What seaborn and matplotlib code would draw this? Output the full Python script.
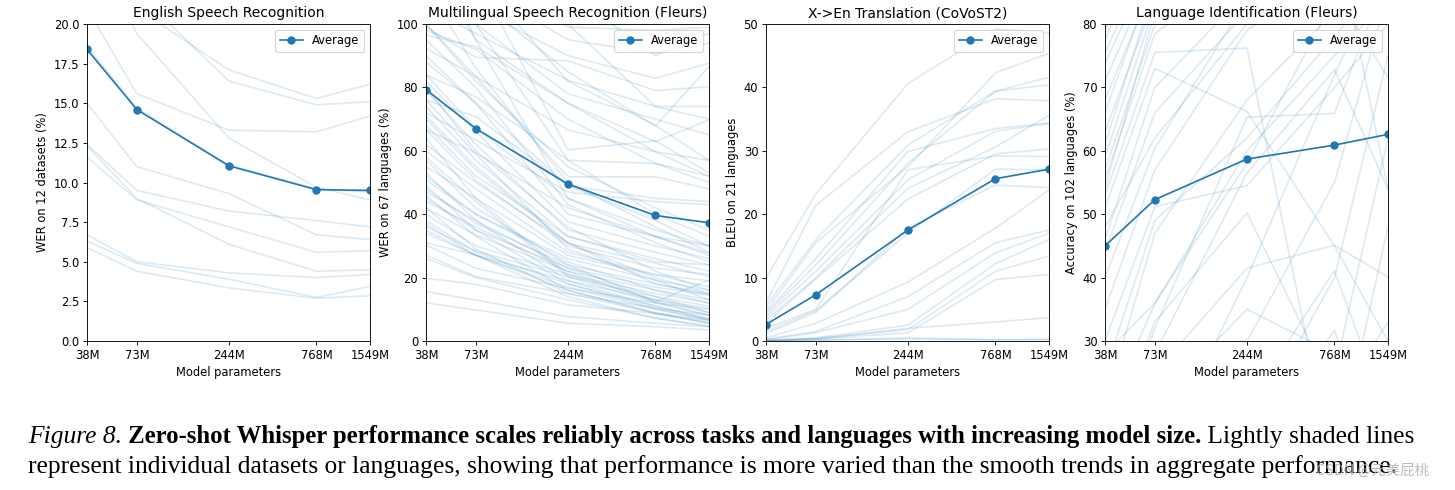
import numpy as np
import pandas as pd
import matplotlib
matplotlib.use("Agg")
import matplotlib.pyplot as plt
import seaborn as sns
from matplotlib.ticker import NullLocator, FixedLocator, FixedFormatter

# ---------------- data ----------------
params = [38, 73, 244, 768, 1549]
param_labels = ["38M", "73M", "244M", "768M", "1549M"]

titles = ["English Speech Recognition", "Multilingual Speech Recognition (Fleurs)",
          "X->En Translation (CoVoST2)", "Language Identification (Fleurs)"]
ylabels = ["WER on 12 datasets (%)", "WER on 67 languages (%)",
           "BLEU on 21 languages", "Accuracy on 102 languages (%)"]
ylims = [(0, 20), (0, 100), (0, 50), (30, 80)]
yticks = [[0, 2.5, 5, 7.5, 10, 12.5, 15, 17.5, 20],
          [0, 20, 40, 60, 80, 100],
          [0, 10, 20, 30, 40, 50],
          [30, 40, 50, 60, 70, 80]]
ytick_labels = [["0.0", "2.5", "5.0", "7.5", "10.0", "12.5", "15.0", "17.5", "20.0"],
                ["0", "20", "40", "60", "80", "100"],
                ["0", "10", "20", "30", "40", "50"],
                ["30", "40", "50", "60", "70", "80"]]

avg_english = [18.4, 14.6, 11.05, 9.55, 9.5]
avg_multi = [79.3, 67.0, 49.5, 39.6, 37.3]
avg_translation = [2.6, 7.3, 17.5, 25.6, 27.1]
avg_langid = [45.0, 52.3, 58.7, 60.9, 62.6]

english_lines = [
    [26.0, 19.4, 12.8, 9.7, 8.9],
    [21.0, 15.6, 13.3, 13.2, 14.2],
    [24.0, 21.0, 17.1, 15.3, 16.2],
    [27.0, 22.0, 16.4, 14.9, 15.1],
    [15.0, 11.0, 9.3, 6.7, 6.4],
    [12.4, 9.5, 8.2, 7.6, 7.2],
    [11.6, 8.9, 7.2, 5.6, 5.7],
    [12.3, 9.0, 6.1, 4.4, 4.5],
    [6.7, 5.0, 4.3, 4.0, 4.2],
    [6.3, 4.9, 3.9, 2.75, 3.45],
    [5.9, 4.4, 3.35, 2.7, 2.85],
    [18.6, 14.7, 11.1, 9.6, 9.4],
]

multi_lines = [
    [140, 120, 99, 98, 99], [130, 112, 95, 90.8, 94], [120, 105, 90, 82.9, 87.6],
    [118, 108, 85, 67.8, 86.6], [99, 89.5, 88.4, 79, 80.2], [105, 97, 82.3, 74, 74],
    [96.5, 92.8, 75, 62.9, 69.7], [110, 100, 78, 70, 65], [92.3, 83.4, 66.6, 59.7, 57],
    [150, 115, 60.3, 63.2, 53], [83.9, 77, 57, 56, 52], [100, 83.4, 51.8, 51.8, 48],
    [76, 70.8, 49, 45, 44], [72, 63.4, 47, 44, 43], [130, 95, 45, 35, 30],
    [66.6, 59.3, 42, 33, 30], [88, 75, 40, 32.9, 27.7], [82, 66, 37.6, 30, 26],
    [79, 62, 35, 28, 24], [74, 57, 33, 26, 22], [70, 54, 30.8, 24.5, 20.3],
    [66.6, 50.8, 30, 23, 21], [60, 48, 28, 21, 19], [55, 45, 27, 20.8, 17.1],
    [50.8, 40, 26, 19.2, 16], [48, 37.1, 24, 18, 15], [45, 35, 23, 17, 14.5],
    [41.9, 33.4, 22, 16.1, 13], [40, 30, 21, 15, 12], [36.1, 28.4, 20.3, 14, 11],
    [34, 27.1, 19, 13, 10.3], [30.3, 22.9, 16.6, 12, 10], [27.1, 20.3, 15, 10.3, 8.2],
    [19.8, 17.9, 11.4, 8.7, 6.6], [15.6, 12.9, 7.7, 5.6, 4.5], [12, 9.8, 5.6, 4.5, 3.5],
    [57, 42, 24, 12.4, 19.2], [62, 50, 31, 20, 15], [52, 40, 25, 16, 12],
    [47, 38, 23, 14, 9], [44, 36, 22, 12.4, 8.2], [38, 28, 18, 11, 7],
    [35, 27, 17, 10, 6.6], [31, 27.1, 16, 9, 5.5], [26, 20, 13, 7.2, 4.8],
    [42, 29, 15, 8.7, 6], [68, 52, 33, 25, 24], [84, 67, 45, 33, 27],
    [90, 75, 49, 38, 30], [100, 82, 55, 42, 35], [98, 92, 70, 56, 50],
    [120, 95, 75, 59.7, 52], [160, 140, 100, 74, 70], [170, 150, 110, 90, 97],
    [135, 115, 82, 68, 57], [125, 100, 57, 40, 33], [112, 86, 50, 36, 28],
    [95, 80, 43, 31, 25], [80, 60, 36, 22, 16], [76, 59, 29, 19.2, 13],
    [71, 55, 31, 18, 14.5], [64, 45, 21, 13, 9], [58, 44, 20.3, 12, 8],
    [53, 38, 19, 11, 7], [49, 35, 18, 10.3, 6.6], [46, 33, 16, 8.7, 5.6],
    [37, 27, 14, 7.2, 4.5],
]

translation_lines = [
    [9.9, 23.2, 40.6, 49.2, 48.6], [6.0, 21.4, 33.0, 38.2, 37.9],
    [5.5, 16.0, 30.9, 39.4, 41.6], [4.8, 15.5, 27.5, 42.3, 45.4],
    [4.5, 13.0, 29.9, 33.5, 34.4], [4.2, 12.0, 28.0, 39.4, 40.4],
    [3.8, 11.0, 25.4, 33.1, 34.3], [3.3, 10.0, 24.1, 30.6, 35.6],
    [2.8, 9.8, 22.4, 29.5, 30.3], [2.0, 5.0, 27.0, 29.2, 29.1],
    [1.5, 4.8, 17.0, 27.1, 27.0], [1.2, 4.5, 17.8, 24.6, 24.2],
    [0.5, 2.8, 9.3, 17.8, 23.8], [0.3, 1.5, 7.0, 15.5, 17.5],
    [0.2, 1.3, 5.0, 13.9, 17.0], [0.1, 0.5, 2.5, 12.2, 16.0],
    [0.1, 0.4, 1.8, 11.0, 13.4], [0.1, 0.3, 1.3, 9.7, 10.5],
    [0.0, 0.3, 2.0, 3.0, 3.7], [0.0, 0.1, 0.5, 0.2, 0.3],
    [0.0, 0.2, 0.3, 0.2, 0.2],
]

langid_lines = [
    [79, 98, 99, 99, 99], [77.5, 96, 99, 99, 99], [75.4, 93, 98, 99, 99],
    [73.8, 91, 97, 98, 99], [71, 89, 96, 98, 98], [68, 87, 95, 97, 98],
    [66, 88, 94, 97, 98], [63, 84, 93, 96, 97], [61, 86, 92, 95, 97],
    [59, 83, 91, 95, 96], [57, 80, 90, 93, 95], [55.5, 78.5, 89, 92, 94],
    [54, 82, 88, 91, 95], [53, 75.5, 76.2, 9, 5], [51, 73, 66.2, 45, 30],
    [48, 62, 80, 88, 92], [46, 70, 85, 92, 95], [44, 66, 82, 90, 94],
    [40, 60.4, 84, 90, 93], [35, 57, 79, 88, 92], [30, 51.2, 54.5, 70, 80],
    [25, 49, 62, 78, 88], [20, 47, 68, 82, 88], [28, 36, 58, 84, 90],
    [18, 35.9, 60, 75, 84], [12, 33, 50.2, 22, 12], [8, 28, 56.5, 72.8, 54],
    [5, 25, 41.5, 45.1, 40.1], [3, 15, 20, 41.1, 18], [2, 8, 12, 31.7, 8],
    [10, 32, 65.3, 65.9, 88], [0, 10, 40, 72, 90], [0, 5, 30, 55, 85],
    [0, 0, 15, 40, 75], [0, 0, 5, 25, 62], [95, 98, 97, 85, 71.6],
    [85, 95, 90, 95, 54], [0, 0, 0, 10, 48], [0, 20, 35, 28, 10],
    [0, 0, 2, 20, 33],
]

panels = [
    (english_lines, avg_english),
    (multi_lines, avg_multi),
    (translation_lines, avg_translation),
    (langid_lines, avg_langid),
]

# ---------------- figure ----------------
W, H, DPI = 1455, 490, 80
fig = plt.figure(figsize=(W / DPI, H / DPI), dpi=DPI)
fig.patch.set_facecolor("white")

lefts = [87, 426, 766, 1105]
ax_w, ax_top, ax_bot = 283, 24, 341
small = 10.4

for k, (lines, avg) in enumerate(panels):
    ax = fig.add_axes([lefts[k] / W, 1 - ax_bot / H, ax_w / W, (ax_bot - ax_top) / H])
    rows = []
    for i, ln in enumerate(lines):
        for p, v in zip(params, ln):
            rows.append({"params": p, "value": v, "line": i})
    df = pd.DataFrame(rows)
    sns.lineplot(data=df, x="params", y="value", units="line", estimator=None,
                 color="C0", alpha=0.15, lw=1.5, ax=ax, legend=False)
    avg_df = pd.DataFrame({"params": params, "value": avg})
    sns.lineplot(data=avg_df, x="params", y="value", marker="o", color="C0",
                 markersize=6.5, markeredgecolor="C0", markeredgewidth=1.0,
                 lw=1.5, label="Average", ax=ax)
    ax.set_xscale("log")
    ax.set_xlim(params[0], params[-1])
    ax.xaxis.set_major_locator(FixedLocator(params))
    ax.xaxis.set_major_formatter(FixedFormatter(param_labels))
    ax.xaxis.set_minor_locator(NullLocator())
    ax.set_ylim(*ylims[k])
    ax.set_yticks(yticks[k])
    ax.set_yticklabels(ytick_labels[k])
    ax.set_title(titles[k], fontsize=12.5)
    ax.set_xlabel("Model parameters", fontsize=small)
    ax.set_ylabel(ylabels[k], fontsize=small)
    ax.tick_params(labelsize=small)
    ax.legend(loc="upper right", fontsize=small)

# ---------------- caption ----------------
serif = "Liberation Serif"
fs = 23.0
fs_bold = 22.3
renderer = fig.canvas.get_renderer()

def put(x_px, y_px, s, size=fs, **kw):
    t = fig.text(x_px / W, 1 - y_px / H, s, fontsize=size, family=serif,
                 va="baseline", ha="left", **kw)
    bb = t.get_window_extent(renderer=renderer)
    return x_px + bb.width

x = 28
x = put(x, 443, "Figure 8.", style="italic")
x = put(x, 443, " Zero-shot Whisper performance scales reliably across tasks and languages with increasing model size.",
        size=fs_bold, weight="bold")
x = put(x, 443, " Lightly shaded lines")
put(28, 473, "represent individual datasets or languages, showing that performance is more varied than the smooth trends in aggregate performance.")

fig.text(1373 / W, 1 - 471 / H, "CSDN @元美屁桃", fontsize=13, color="#b0b0b0",
         alpha=0.85, ha="center", va="center",
         family=["Noto Sans CJK SC", "DejaVu Sans"])

fig.savefig("out.png", dpi=DPI, facecolor="white")
